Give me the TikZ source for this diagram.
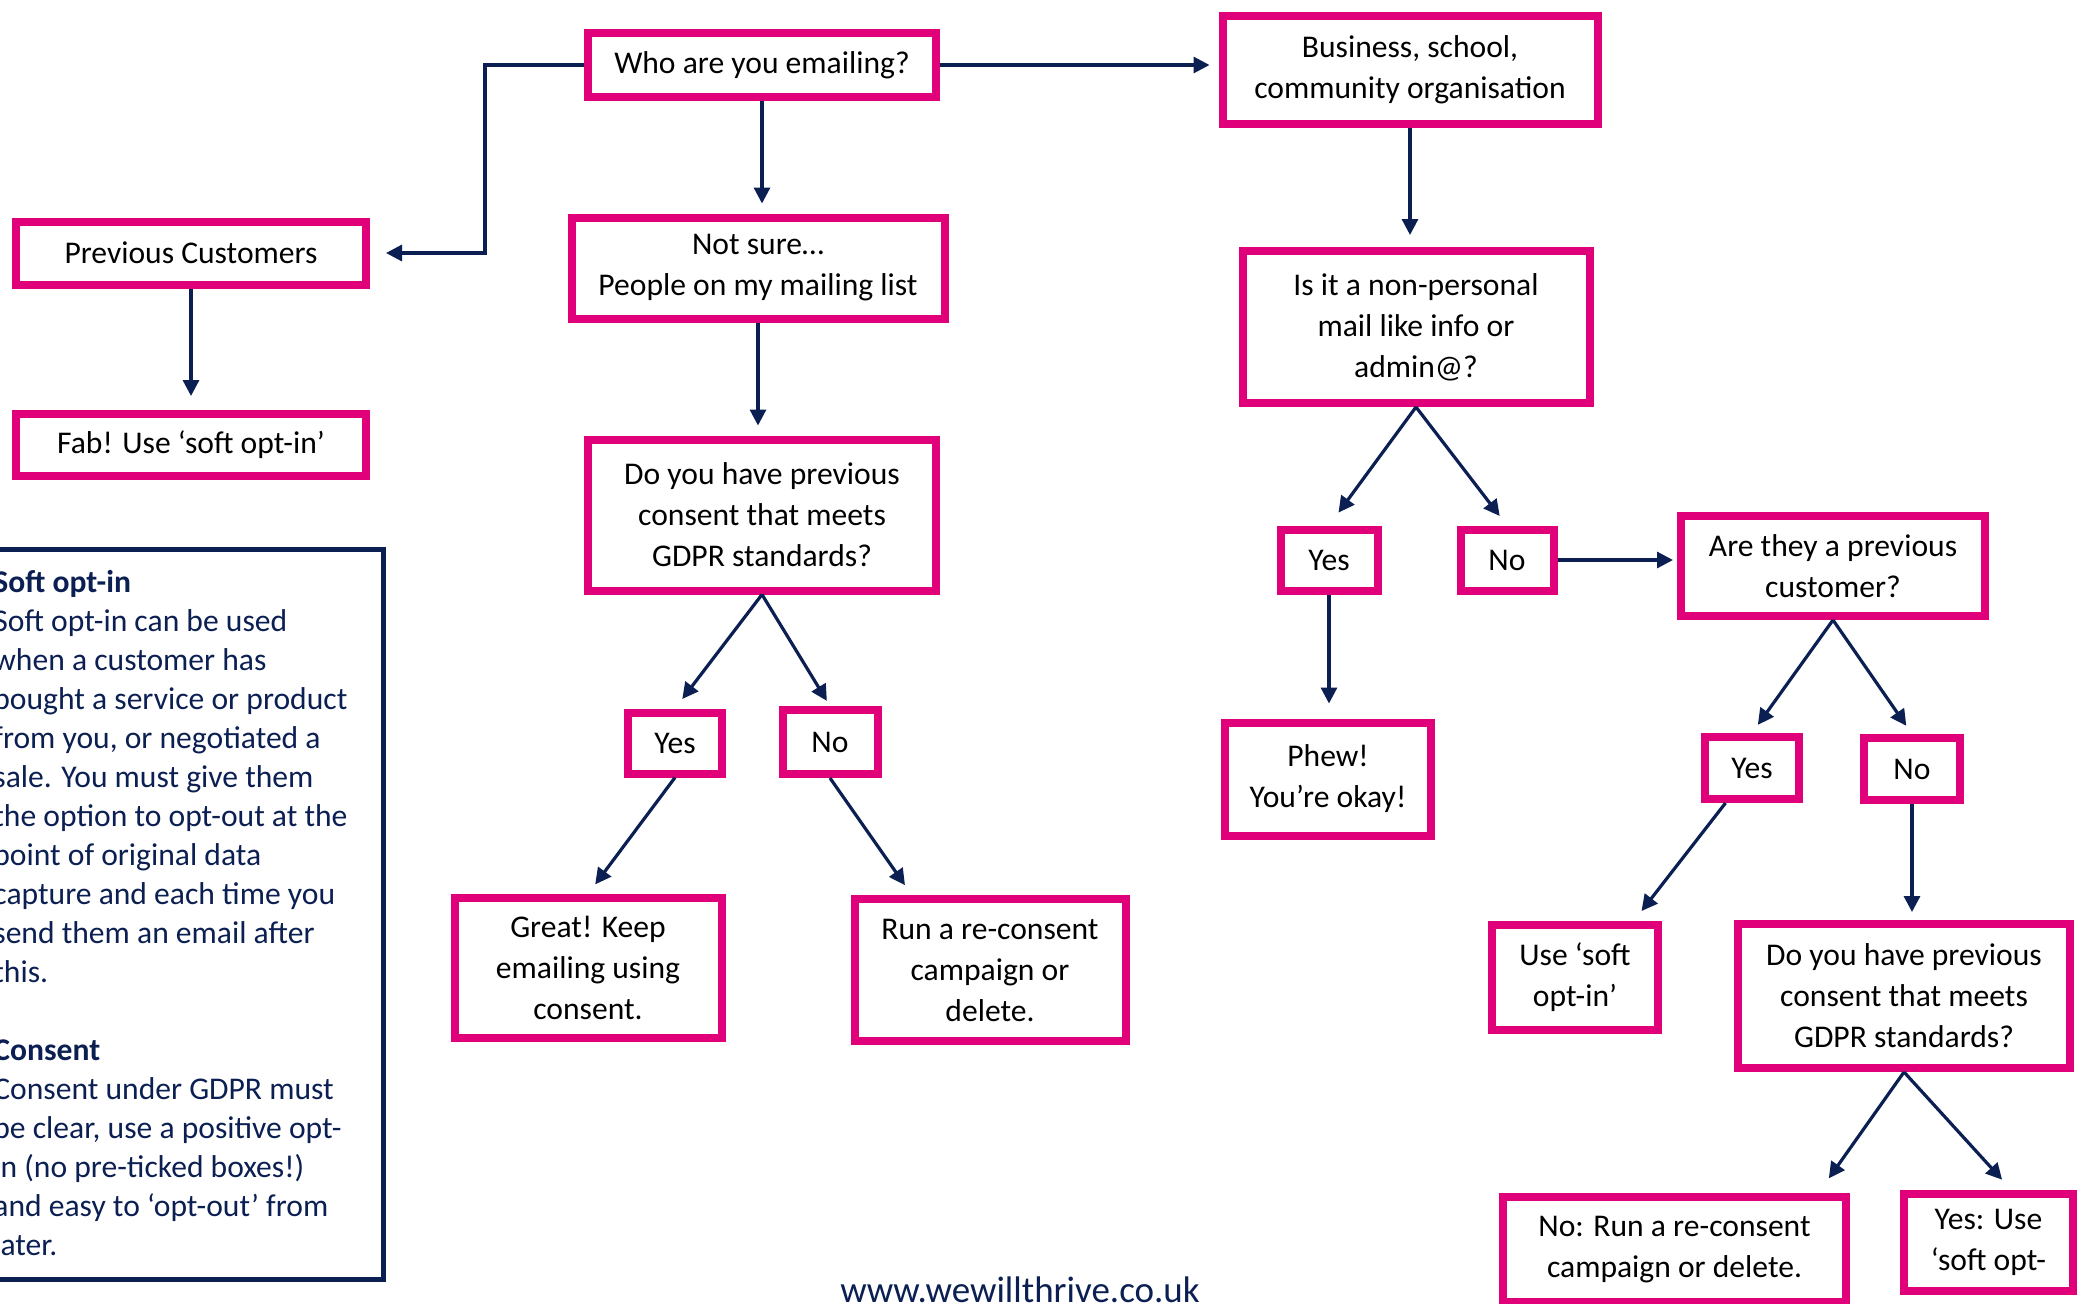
\documentclass[tikz,border=0pt]{standalone}
\usepackage{fontspec}
\setmainfont{Carlito}
\usetikzlibrary{arrows.meta,calc}
\definecolor{pinkb}{RGB}{224,0,122}
\definecolor{navyc}{RGB}{11,31,82}
\begin{document}
\begin{tikzpicture}[x=0.5pt,y=-0.5pt,
  box/.style={draw=pinkb, line width=4pt, fill=white, inner sep=0pt, align=center,
    font=\fontsize{15.8pt}{20.5pt}\selectfont, text=black},
  arr/.style={draw=navyc, line width=1.6pt, -{Triangle[length=8pt,width=8pt]}},
]
\useasboundingbox (0,0) rectangle (2085,1303);
\clip (0,0) rectangle (2085,1303);

\node[box, minimum width=174pt, minimum height=32pt] (who) at (762,65) {Who are you emailing?};
\node[box, minimum width=187.5pt, minimum height=54pt] (bus) at (1410,70) {Business, school,\\community organisation};
\node[box, minimum width=175pt, minimum height=31.5pt] (prev) at (191,253) {Previous Customers};
\node[box, minimum width=186.5pt, minimum height=50.5pt] (nots) at (758,268) {Not sure…\\People on my mailing list};
\node[box, minimum width=175pt, minimum height=31pt] (fab) at (191,445) {Fab! Use ‘soft opt-in’};
\node[box, minimum width=173.5pt, minimum height=76pt] (isit) at (1416,327) {Is it a non-personal\\mail like info or\\admin@?};
\node[box, minimum width=174pt, minimum height=75.5pt] (q1) at (762,515) {Do you have previous\\consent that meets\\GDPR standards?};
\node[box, minimum width=48.5pt, minimum height=30.5pt] (yes2) at (1329,560) {Yes};
\node[box, minimum width=46.5pt, minimum height=30.5pt] (no2) at (1507,560) {No};
\node[box, minimum width=152pt, minimum height=50pt] (prevq) at (1833,566) {Are they a previous\\customer?};
\node[box, minimum width=47pt, minimum height=30.5pt] (yes1) at (675,743) {Yes};
\node[box, minimum width=47.5pt, minimum height=32pt] (no1) at (830,742) {No};
\node[box, minimum width=103pt, minimum height=56.5pt] (phew) at (1328,779) {Phew!\\You’re okay!};
\node[box, minimum width=47pt, minimum height=31pt] (yes3) at (1752,768) {Yes};
\node[box, minimum width=48pt, minimum height=31pt] (no3) at (1912,769) {No};
\node[box, minimum width=133.5pt, minimum height=70pt] (great) at (588,968) {Great! Keep\\emailing using\\consent.};
\node[box, minimum width=135.5pt, minimum height=71pt] (run1) at (990,970) {Run a re-consent\\campaign or\\delete.};
\node[box, minimum width=83pt, minimum height=52.5pt] (uses) at (1575,977) {Use ‘soft\\opt-in’};
\node[box, minimum width=166pt, minimum height=72pt] (q2) at (1904,996) {Do you have previous\\consent that meets\\GDPR standards?};
\node[box, minimum width=171.5pt, minimum height=52.5pt] (run2) at (1674.5,1249.5) {No: Run a re-consent\\campaign or delete.};
\node[box, minimum width=84.5pt, minimum height=48.5pt] (yesuse) at (1988.5,1242.5) {Yes: Use\\‘soft opt-};

% legend
\node[draw=navyc, line width=2.5pt, inner sep=0pt, minimum width=200.5pt, minimum height=365pt, anchor=north east] (legbox) at (386,547) {};
\node[anchor=base west, inner sep=0pt, text=navyc] (legtxt) at (-7,592) {\parbox[t]{220pt}{\fontsize{15.8pt}{19.5pt}\selectfont\raggedright
{\bfseries Soft opt-in}\\
Soft opt-in can be used\\
when a customer has\\
bought a service or product\\
from you, or negotiated a\\
sale. You must give them\\
the option to opt-out at the\\
point of original data\\
capture and each time you\\
send them an email after\\
this.\\
\mbox{}\\
{\bfseries Consent}\\
Consent under GDPR must\\
be clear, use a positive opt-\\
in (no pre-ticked boxes!)\\
and easy to ‘opt-out’ from\\
later.}};

\node[anchor=base, inner sep=0pt, text=navyc, font=\fontsize{18.5pt}{22pt}\selectfont] (url) at (1020,1302) {www.wewillthrive.co.uk};

% connectors
\coordinate (elbow) at (485,160);
\draw[arr, shorten >=8pt] (who.west) -| (elbow) |- (prev.east);
\draw[arr, shorten >=5pt] (who.south) -- (who.south |- nots.north);
\draw[arr, shorten >=4.5pt] (who.east) -- (who.east -| bus.west);
\draw[arr, shorten >=6pt] (bus.south) -- (bus.south |- isit.north);
\draw[arr, shorten >=7pt] (prev.south) -- (prev.south |- fab.north);
\draw[arr, shorten >=5pt] (nots.south) -- (nots.south |- q1.north);
\draw[arr, shorten >=6pt] (q1.south) -- (yes1.north);
\draw[arr, shorten >=3pt] (q1.south) -- (no1.north);
\draw[arr, shorten >=6pt] (yes1.south) -- (great.north);
\draw[arr, shorten >=6pt] (no1.south) -- ($(run1.north west)!0.22!(run1.north east)$);
\draw[arr, shorten >=8pt] (isit.south) -- (yes2.north);
\draw[arr, shorten >=6pt] (isit.south) -- (no2.north);
\draw[arr, shorten >=7.5pt] (yes2.south) -- (yes2.south |- phew.north);
\draw[arr, shorten >=2pt] (no2.east) -- (no2.east -| prevq.west);
\draw[arr, shorten >=5pt] (prevq.south) -- (yes3.north);
\draw[arr, shorten >=5pt] (prevq.south) -- (no3.north);
\draw[arr, shorten >=6pt] ($(yes3.south west)!0.24!(yes3.south east)$) -- ($(uses.north west)!0.84!(uses.north east)$);
\draw[arr, shorten >=4pt] (no3.south) -- (no3.south |- q2.north);
\draw[arr, shorten >=9pt] (q2.south) -- ($(run2.north west)!0.91!(run2.north east)$);
\draw[arr, shorten >=7pt] (q2.south) -- ($(yesuse.north west)!0.63!(yesuse.north east)$);
\end{tikzpicture}
\end{document}
